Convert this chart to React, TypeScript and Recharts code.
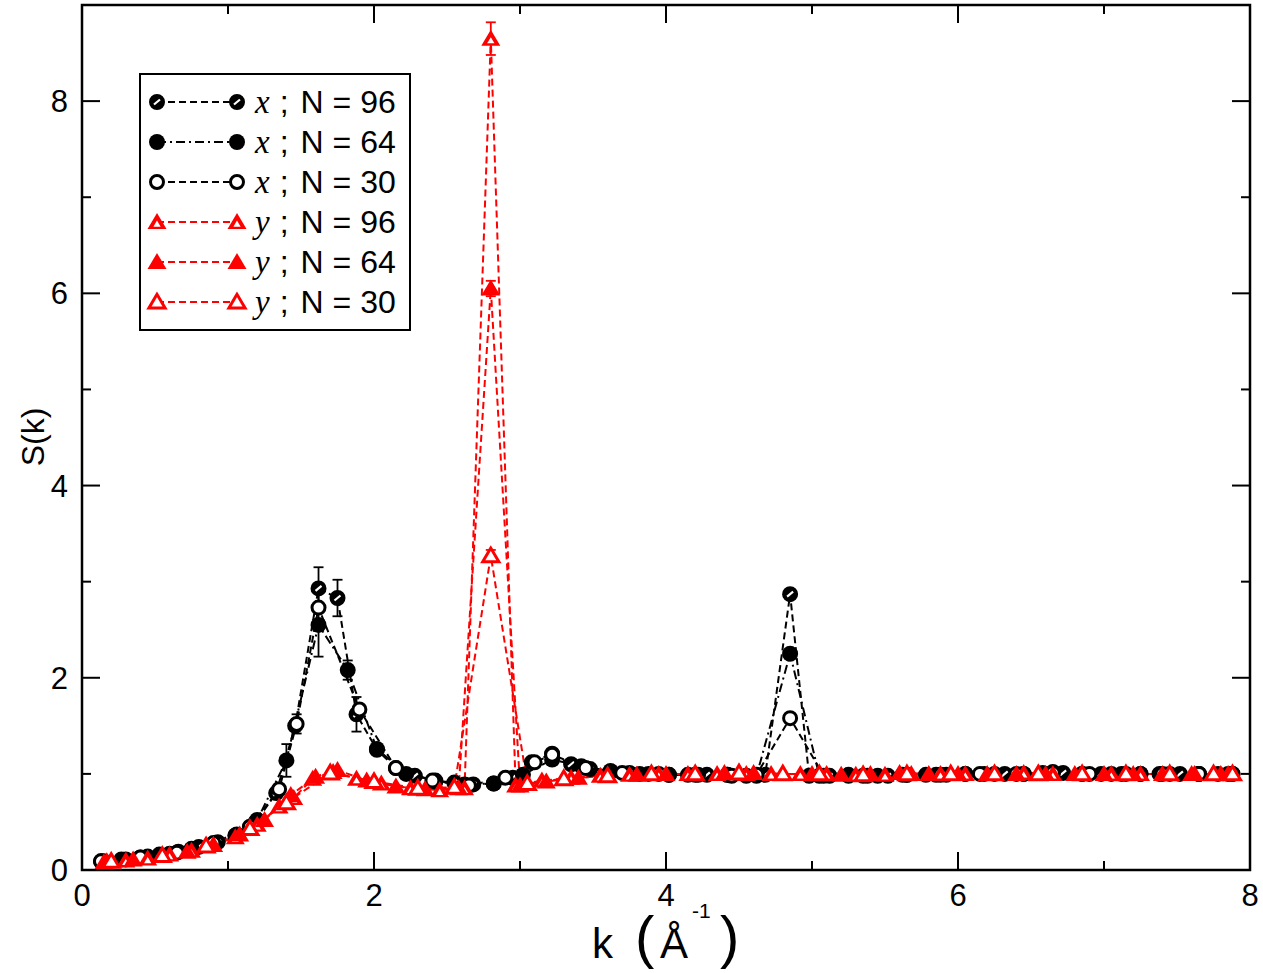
import { LineChart, Line, XAxis, YAxis, ReferenceLine, ReferenceArea, ErrorBar } from 'recharts';

// S(k) along x, three system sizes
const kX96 = [0.13, 0.27, 0.4, 0.53, 0.66, 0.8, 0.93, 1.06, 1.19, 1.33, 1.46, 1.62, 1.75, 1.88, 2.02, 2.15, 2.28, 2.42, 2.55, 2.68, 2.82, 2.95, 3.08, 3.22, 3.35, 3.48, 3.62, 3.75, 3.88, 4.02, 4.15, 4.28, 4.42, 4.55, 4.68, 4.85, 4.98, 5.12, 5.25, 5.38, 5.52, 5.65, 5.78, 5.92, 6.05, 6.18, 6.32, 6.45, 6.58, 6.72, 6.85, 6.98, 7.12, 7.25, 7.38, 7.52, 7.65, 7.78, 7.88];
const sX96 = [0.09, 0.11, 0.13, 0.16, 0.19, 0.24, 0.29, 0.37, 0.5, 0.8, 1.5, 2.93, 2.83, 1.62, 1.25, 1.06, 0.98, 0.93, 0.91, 0.89, 0.9, 0.96, 1.12, 1.21, 1.1, 1.05, 1.02, 1.01, 1.0, 0.99, 0.99, 0.99, 0.99, 0.98, 0.99, 2.87, 0.98, 0.98, 0.99, 0.98, 0.98, 0.99, 0.99, 0.99, 1.0, 1.0, 1.0, 1.0, 1.01, 1.01, 1.0, 1.0, 1.0, 1.0, 1.0, 1.0, 1.0, 1.0, 1.0];
const errX96 = [[1.62, 0.22], [1.75, 0.19], [1.88, 0.18]];

const kX64 = [0.15, 0.3, 0.45, 0.6, 0.75, 0.9, 1.05, 1.2, 1.4, 1.62, 1.82, 2.02, 2.22, 2.42, 2.62, 2.82, 3.02, 3.22, 3.42, 3.62, 3.82, 4.02, 4.22, 4.42, 4.62, 4.85, 5.05, 5.25, 5.45, 5.65, 5.85, 6.05, 6.25, 6.45, 6.65, 6.85, 7.05, 7.25, 7.45, 7.65, 7.85];
const sX64 = [0.09, 0.11, 0.14, 0.17, 0.22, 0.27, 0.36, 0.52, 1.14, 2.55, 2.08, 1.26, 1.0, 0.92, 0.89, 0.9, 0.99, 1.15, 1.08, 1.03, 1.0, 0.99, 0.99, 0.99, 0.98, 2.25, 0.98, 0.98, 0.98, 0.99, 0.99, 1.0, 1.0, 1.0, 1.02, 1.0, 1.0, 1.0, 1.0, 1.0, 1.0];
const errX64 = [[1.4, 0.17], [1.62, 0.33], [1.82, 0.1]];

const kX30 = [0.13, 0.4, 0.65, 0.9, 1.15, 1.35, 1.47, 1.62, 1.9, 2.15, 2.4, 2.65, 2.9, 3.1, 3.22, 3.45, 3.7, 3.95, 4.2, 4.45, 4.62, 4.85, 5.08, 5.35, 5.62, 5.88, 6.15, 6.4, 6.65, 6.9, 7.15, 7.4, 7.65, 7.88];
const sX30 = [0.09, 0.13, 0.18, 0.28, 0.45, 0.84, 1.52, 2.73, 1.67, 1.06, 0.93, 0.88, 0.96, 1.12, 1.2, 1.06, 1.01, 1.0, 0.99, 0.98, 0.99, 1.58, 0.98, 0.98, 0.99, 0.99, 1.0, 1.0, 1.01, 1.0, 1.0, 1.0, 1.0, 1.0];
const errX30 = [[1.47, 0.1]];

// S(k) along y
const kY96 = [0.15, 0.3, 0.45, 0.6, 0.75, 0.9, 1.05, 1.2, 1.35, 1.45, 1.58, 1.72, 1.88, 2.05, 2.25, 2.45, 2.62, 2.8, 2.97, 3.15, 3.35, 3.55, 3.75, 3.95, 4.15, 4.35, 4.55, 4.72, 4.92, 5.1, 5.3, 5.5, 5.68, 5.88, 6.05, 6.25, 6.45, 6.65, 6.85, 7.05, 7.25, 7.45, 7.62, 7.85];
const sY96 = [0.08, 0.1, 0.12, 0.16, 0.2, 0.26, 0.34, 0.47, 0.66, 0.75, 0.95, 1.02, 0.95, 0.9, 0.85, 0.83, 0.85, 8.65, 0.88, 0.93, 0.96, 0.98, 0.99, 1.0, 1.0, 1.0, 1.0, 1.0, 1.0, 1.0, 0.99, 0.99, 1.0, 1.0, 1.0, 1.0, 1.01, 1.0, 1.0, 1.0, 1.0, 1.0, 1.0, 1.0];
const errY96 = [[2.8, 0.17]];

const kY64 = [0.17, 0.35, 0.55, 0.72, 0.9, 1.08, 1.25, 1.43, 1.6, 1.75, 1.95, 2.15, 2.35, 2.58, 2.8, 3.0, 3.18, 3.4, 3.6, 3.8, 4.0, 4.2, 4.4, 4.6, 4.8, 5.0, 5.2, 5.4, 5.6, 5.8, 6.0, 6.2, 6.4, 6.6, 6.8, 7.0, 7.2, 7.4, 7.6, 7.8];
const sY64 = [0.09, 0.11, 0.15, 0.19, 0.26, 0.37, 0.52, 0.78, 0.97, 1.04, 0.93, 0.87, 0.84, 0.85, 6.05, 0.88, 0.92, 0.96, 0.98, 0.99, 1.0, 1.0, 1.01, 1.01, 1.0, 1.0, 0.99, 1.0, 1.01, 1.0, 1.0, 1.0, 1.0, 1.0, 1.0, 1.0, 1.0, 1.0, 1.0, 1.0];
const errY64 = [[2.8, 0.08]];

const kY30 = [0.2, 0.55, 0.85, 1.15, 1.4, 1.7, 2.0, 2.3, 2.55, 2.8, 3.05, 3.3, 3.6, 3.9, 4.2, 4.5, 4.8, 5.05, 5.35, 5.65, 5.95, 6.25, 6.55, 6.85, 7.15, 7.45, 7.75, 7.88];
const sY30 = [0.09, 0.15, 0.25, 0.43, 0.7, 1.01, 0.92, 0.85, 0.86, 3.27, 0.9, 0.95, 0.98, 1.0, 1.0, 1.01, 1.0, 1.0, 0.99, 1.0, 1.0, 1.0, 1.0, 1.0, 1.0, 1.0, 1.0, 1.0];
const errY30 = [[2.8, 0.06]];

const xTicks = [0, 2, 4, 6, 8];
const xMinor = [1, 3, 5, 7];
const yTicks = [0, 2, 4, 6, 8];
const yMinor = [1, 3, 5, 7];

const build = (k: number[], s: number[], err: number[][] = []) =>
  k.map((kk, i) => {
    const e = err.find((p) => p[0] === kk);
    return { k: kk, s: s[i], err: e ? e[1] : null };
  });

const RED = '#ff0000';
const SANS = '"Liberation Sans", Arial, sans-serif';

const OpenCircle = ({ cx, cy }: any) => <circle cx={cx} cy={cy} r={6.5} fill="white" stroke="black" strokeWidth={3} />;
const FullCircle = ({ cx, cy }: any) => <circle cx={cx} cy={cy} r={8} fill="black" />;
const HalfCircle = ({ cx, cy }: any) => (
  <g>
    <circle cx={cx} cy={cy} r={7} fill="black" stroke="black" strokeWidth={2} />
    <line x1={cx - 3} y1={cy + 2.5} x2={cx + 3} y2={cy - 2.5} stroke="white" strokeWidth={2.2} />
  </g>
);
const tri = (cx: number, cy: number, s: number) =>
  `${cx},${cy - 9 * s} ${cx - 9.5 * s},${cy + 7 * s} ${cx + 9.5 * s},${cy + 7 * s}`;
const FullTri = ({ cx, cy }: any) => <polygon points={tri(cx, cy, 1)} fill={RED} />;
const OpenTri = ({ cx, cy }: any) => (
  <polygon points={tri(cx, cy, 0.85)} fill="white" stroke={RED} strokeWidth={3} strokeLinejoin="miter" />
);
const HalfTri = ({ cx, cy }: any) => (
  <g>
    <polygon points={tri(cx, cy, 1)} fill={RED} />
    <polygon points={tri(cx, cy + 2, 0.38)} fill="white" />
  </g>
);

const dotFn = (Shape: any) => (p: any) => <Shape key={`d-${p.index}`} cx={p.cx} cy={p.cy} />;

const series = [
  { id: 'x96', data: build(kX96, sX96, errX96), color: 'black', dash: '7 4', Shape: HalfCircle, axis: 'x', n: '96' },
  { id: 'x64', data: build(kX64, sX64, errX64), color: 'black', dash: '9 4 2 4', Shape: FullCircle, axis: 'x', n: '64' },
  { id: 'x30', data: build(kX30, sX30, errX30), color: 'black', dash: '7 4', Shape: OpenCircle, axis: 'x', n: '30' },
  { id: 'y96', data: build(kY96, sY96, errY96), color: RED, dash: '7 4', Shape: HalfTri, axis: 'y', n: '96' },
  { id: 'y64', data: build(kY64, sY64, errY64), color: RED, dash: '7 4', Shape: FullTri, axis: 'y', n: '64' },
  { id: 'y30', data: build(kY30, sY30, errY30), color: RED, dash: '7 4', Shape: OpenTri, axis: 'y', n: '30' },
];

// inward tick lengths in data units (plot is 1168 x 865 px)
const xu = 8 / 1168;
const yu = 9 / 865;

const XTick = ({ x, y, payload }: any) => (
  <text x={x} y={y} dy="0.71em" textAnchor="middle" fontSize={31} fill="black" fontFamily={SANS}>
    {payload.value}
  </text>
);
const YTick = ({ x, y, payload }: any) => (
  <text x={x} y={y} dy="0.36em" textAnchor="end" fontSize={31} fill="black" fontFamily={SANS}>
    {payload.value}
  </text>
);

const XTitle = () => (
  <g fontFamily={SANS} fill="black">
    <text x={592} y={958} fontSize={42}>k</text>
    <text x={635} y={957} fontSize={58}>(</text>
    <text x={660} y={958} fontSize={42}>Å</text>
    <text x={692} y={918} fontSize={21}>-1</text>
    <text x={720} y={957} fontSize={58}>)</text>
  </g>
);

const YTitle = () => (
  <text x={33} y={437} transform="rotate(-90, 33, 437)" textAnchor="middle" dominantBaseline="central" fontSize={32} fill="black" fontFamily={SANS}>
    S(k)
  </text>
);

export default function App() {
  return (
    <div style={{ position: 'absolute', left: 0, top: 0, width: 1263, height: 973, background: 'white', fontFamily: SANS }}>
      <LineChart width={1263} height={973} margin={{ top: 5, right: 13, bottom: 0, left: 0 }}>
        <XAxis dataKey="k" type="number" domain={[0, 8]} ticks={xTicks} allowDataOverflow tickLine={false} axisLine={false} height={103} tickMargin={8} tick={<XTick />} label={{ content: () => <XTitle /> }} />
        <YAxis type="number" domain={[0, 9]} ticks={yTicks} allowDataOverflow width={82} tickLine={false} axisLine={false} tickMargin={8} tick={<YTick />} label={{ content: () => <YTitle /> }} />
        <ReferenceArea x1={0} x2={8} y1={0} y2={9} fill="none" fillOpacity={0} stroke="black" strokeWidth={2.5} ifOverflow="visible" />
        {xTicks.slice(1, -1).map((t) => (
          <ReferenceLine key={`xb${t}`} segment={[{ x: t, y: 0 }, { x: t, y: 18 * yu }]} stroke="black" strokeWidth={2} />
        ))}
        {xTicks.slice(1, -1).map((t) => (
          <ReferenceLine key={`xt${t}`} segment={[{ x: t, y: 9 }, { x: t, y: 9 - 18 * yu }]} stroke="black" strokeWidth={2} />
        ))}
        {xMinor.map((t) => (
          <ReferenceLine key={`xmb${t}`} segment={[{ x: t, y: 0 }, { x: t, y: 9 * yu }]} stroke="black" strokeWidth={2} />
        ))}
        {xMinor.map((t) => (
          <ReferenceLine key={`xmt${t}`} segment={[{ x: t, y: 9 }, { x: t, y: 9 - 9 * yu }]} stroke="black" strokeWidth={2} />
        ))}
        {yTicks.slice(1).map((t) => (
          <ReferenceLine key={`yl${t}`} segment={[{ x: 0, y: t }, { x: 18 * xu, y: t }]} stroke="black" strokeWidth={2} />
        ))}
        {yTicks.slice(1).map((t) => (
          <ReferenceLine key={`yr${t}`} segment={[{ x: 8, y: t }, { x: 8 - 18 * xu, y: t }]} stroke="black" strokeWidth={2} />
        ))}
        {yMinor.map((t) => (
          <ReferenceLine key={`yml${t}`} segment={[{ x: 0, y: t }, { x: 9 * xu, y: t }]} stroke="black" strokeWidth={2} />
        ))}
        {yMinor.map((t) => (
          <ReferenceLine key={`ymr${t}`} segment={[{ x: 8, y: t }, { x: 8 - 9 * xu, y: t }]} stroke="black" strokeWidth={2} />
        ))}
        {series.map((s) => (
          <Line
            key={s.id}
            data={s.data}
            dataKey="s"
            type="linear"
            stroke={s.color}
            strokeWidth={2}
            strokeDasharray={s.dash}
            dot={dotFn(s.Shape)}
            activeDot={false}
            isAnimationActive={false}
          >
            <ErrorBar dataKey="err" direction="y" width={5} stroke={s.color} strokeWidth={1.8} />
          </Line>
        ))}
      </LineChart>
      <div style={{ position: 'absolute', left: 139, top: 73, width: 268, height: 254, border: '2px solid black', background: 'white' }}>
        {series.map((s, i) => (
          <div key={s.id} style={{ position: 'absolute', left: 0, top: 7 + i * 40, height: 40, width: 268 }}>
            <svg width={110} height={40} style={{ position: 'absolute', left: 0, top: 0 }}>
              <line x1={16} y1={20} x2={96} y2={20} stroke={s.color} strokeWidth={2} strokeDasharray={s.dash} />
              <s.Shape cx={16} cy={20} />
              <s.Shape cx={96} cy={20} />
            </svg>
            <div style={{ position: 'absolute', left: 114, top: 0, height: 40, lineHeight: '40px', fontSize: 32, whiteSpace: 'nowrap', color: 'black' }}>
              <span style={{ fontFamily: '"Liberation Serif", "Times New Roman", serif', fontStyle: 'italic', fontSize: 33 }}>{s.axis}</span>
              <span style={{ marginLeft: 10 }}>;</span>
              <span style={{ marginLeft: 12 }}>N = {s.n}</span>
            </div>
          </div>
        ))}
      </div>
    </div>
  );
}
